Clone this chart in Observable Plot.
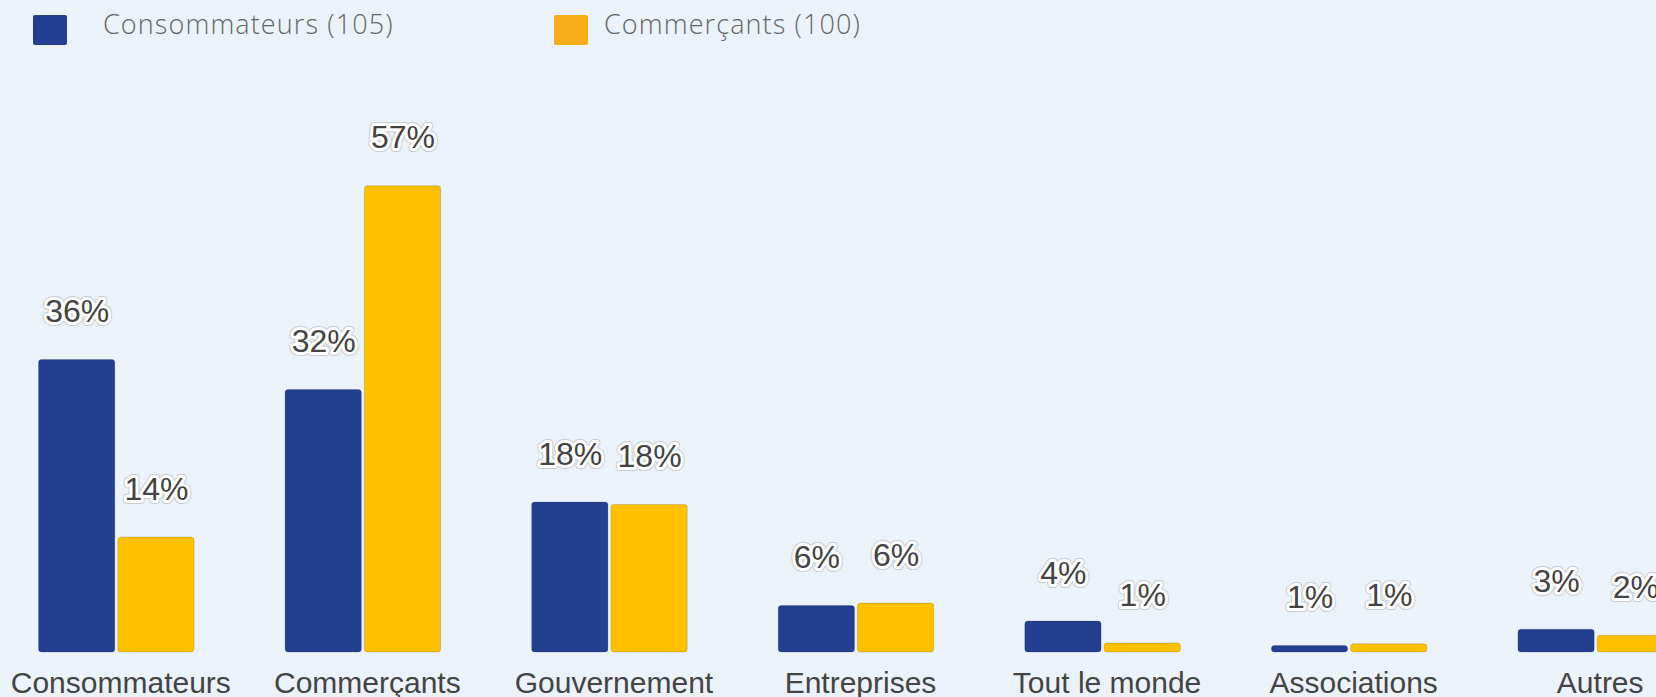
<!DOCTYPE html>
<html>
<head>
<meta charset="utf-8">
<script src="https://cdn.jsdelivr.net/npm/d3@7"></script>
<script src="https://cdn.jsdelivr.net/npm/@observablehq/plot@0.6"></script>
<style>
  html, body { margin: 0; padding: 0; background: #ebf2fa; overflow: hidden; width: 1656px; height: 697px; }
  #legend { display: block; }
  #chart svg { display: block; margin-left: -7px; background: transparent; max-width: none; }
</style>
</head>
<body>
<svg id="legend" width="1656" height="60"></svg>
<div id="chart"></div>
<script>
// ---- data ----
const categories = ["Consommateurs", "Commerçants", "Gouvernement", "Entreprises", "Tout le monde", "Associations", "Autres"];
const seriesNames = ["Consommateurs (105)", "Commerçants (100)"];
const consommateurs = [35.9, 32.2, 18.4, 5.7, 3.8, 0.8, 2.8];
const commercants = [14.1, 57.2, 18.1, 6.0, 1.1, 1.0, 2.05];
const seriesColors = ["#243f8f", "#ffc000"];
const legendColors = ["#243f91", "#f5ae19"];

const rows = [];
categories.forEach((c, i) => {
  rows.push({cat: c, series: seriesNames[0], value: consommateurs[i]});
  rows.push({cat: c, series: seriesNames[1], value: commercants[i]});
});

// ---- legend ----
const legend = d3.select("#legend");
const swatchX = [33, 554];
const legendTextX = [103, 604];
seriesNames.forEach((s, i) => {
  legend.append("rect").attr("x", swatchX[i]).attr("y", 15).attr("width", 34).attr("height", 30)
    .attr("rx", 2).attr("fill", legendColors[i]);
  legend.append("text").attr("x", legendTextX[i]).attr("y", 34)
    .attr("font-family", "'Open Sans', sans-serif").attr("font-size", 27).attr("font-weight", 300)
    .attr("letter-spacing", 1.1)
    .attr("fill", "#666").text(s);
});

// ---- chart ----
const labelFont = "'Liberation Sans', Arial, sans-serif";
const labelOpts = {fx: "cat", x: "series", y: "value", text: d => Math.round(d.value) + "%",
  dy: -38, lineAnchor: "bottom", fontSize: 32, fontFamily: labelFont};
const chart = Plot.plot({
  width: 1726,
  height: 637,
  marginLeft: 0,
  marginRight: 0,
  marginTop: 103,
  marginBottom: 45,
  style: {background: "transparent", overflow: "visible"},
  fx: {domain: categories, padding: 0, round: false, axis: null, label: null},
  x: {domain: seriesNames, paddingInner: 0.038, paddingOuter: 0.574, round: false, axis: null},
  y: {domain: [0, 60], axis: null},
  color: {domain: seriesNames, range: seriesColors},
  marks: [
    Plot.barY(rows, {fx: "cat", x: "series", y: "value", fill: "series", rx: 3,
      stroke: "rgba(0,0,0,0.18)", strokeWidth: 0.8}),
    Plot.text(rows, {...labelOpts, fill: "#c8ccd2", stroke: "#c8ccd2", strokeWidth: 8}),
    Plot.text(rows, {...labelOpts, fill: "#444", stroke: "white", strokeWidth: 6}),
    Plot.text(categories, {fx: d => d, text: d => d, frameAnchor: "bottom", dx: 4, dy: 40, lineAnchor: "bottom",
      fontSize: 30, fill: "#444", fontFamily: labelFont})
  ]
});
document.getElementById("chart").appendChild(chart);
</script>
</body>
</html>
